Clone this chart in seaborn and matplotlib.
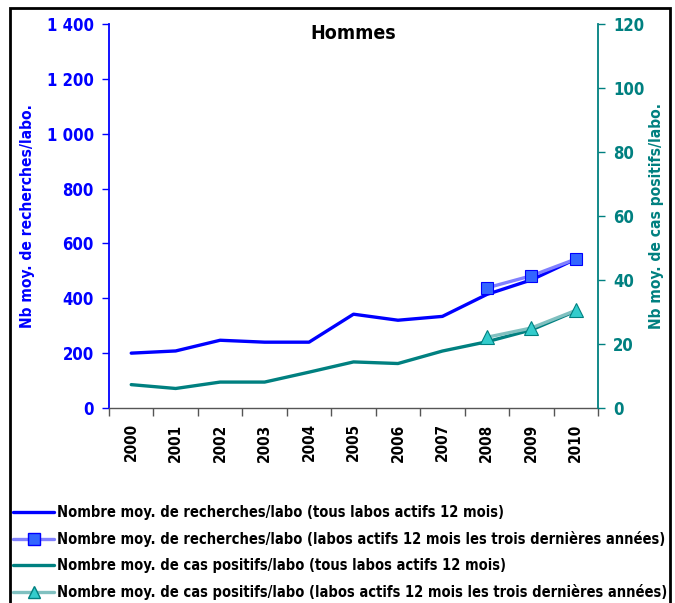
import matplotlib
matplotlib.use("Agg")
import matplotlib.pyplot as plt
import matplotlib.ticker as mticker
from matplotlib import font_manager
from matplotlib.lines import Line2D
from matplotlib.patches import Rectangle
import seaborn as sns
import pandas as pd

years = ["2000", "2001", "2002", "2003", "2004", "2005", "2006", "2007", "2008", "2009", "2010"]
recherches_tous = [200, 208, 247, 240, 240, 342, 320, 334, 414, 467, 543]
recherches_3ans_years = ["2008", "2009", "2010"]
recherches_3ans = [438, 482, 543]
positifs_tous = [7.3, 6.1, 8.1, 8.1, 11.2, 14.4, 13.9, 17.8, 20.7, 24.4, 30.3]
positifs_3ans_years = ["2008", "2009", "2010"]
positifs_3ans = [22.1, 25.0, 30.5]

title = "Hommes"
ylabel_left = "Nb moy. de recherches/labo."
ylabel_right = "Nb moy. de cas positifs/labo."
labels = [
    "Nombre moy. de recherches/labo (tous labos actifs 12 mois)",
    "Nombre moy. de recherches/labo (labos actifs 12 mois les trois dernières années)",
    "Nombre moy. de cas positifs/labo (tous labos actifs 12 mois)",
    "Nombre moy. de cas positifs/labo (labos actifs 12 mois les trois dernières années)",
]

sns.set_theme(style="white")

# choose a condensed bold font if available
fam = "DejaVu Sans"
stretch = "normal"
for cand in ["Liberation Sans Narrow"]:
    try:
        font_manager.findfont(font_manager.FontProperties(family=cand, weight="bold"), fallback_to_default=False)
        fam = cand
        break
    except Exception:
        pass
if fam == "DejaVu Sans":
    stretch = "condensed"
plt.rcParams["font.family"] = [fam, "DejaVu Sans"]
plt.rcParams["font.stretch"] = stretch
plt.rcParams["font.weight"] = "bold"
plt.rcParams["text.color"] = "black"

BLUE = "#0000FF"
TEAL = "#008080"

fig = plt.figure(figsize=(6.75, 6.03), dpi=100)
ax = fig.add_axes([109 / 675, 1 - 408 / 603, (598 - 109) / 675, (408 - 24) / 603])
ax2 = ax.twinx()

df1 = pd.DataFrame({"year": years, "v": recherches_tous})
df2 = pd.DataFrame({"year": recherches_3ans_years, "v": recherches_3ans})
df3 = pd.DataFrame({"year": years, "v": positifs_tous})
df4 = pd.DataFrame({"year": positifs_3ans_years, "v": positifs_3ans})

order = {y: i for i, y in enumerate(years)}
for d in (df1, df2, df3, df4):
    d["x"] = d["year"].map(order)

sns.lineplot(data=df1, x="x", y="v", ax=ax, color=BLUE, lw=2.4, zorder=3)
sns.lineplot(data=df2, x="x", y="v", ax=ax, color="#8080FF", lw=2.4, marker="s",
             markersize=9, markerfacecolor="#3366FF", markeredgecolor="#0000FF", markeredgewidth=0.8, zorder=4)
sns.lineplot(data=df3, x="x", y="v", ax=ax2, color=TEAL, lw=2.4, zorder=3)
sns.lineplot(data=df4, x="x", y="v", ax=ax2, color="#80C0C0", lw=2.4, marker="^",
             markersize=10, markerfacecolor="#33CCCC", markeredgecolor="#008080", markeredgewidth=0.8, zorder=4)

ax.set_xlim(-0.5, len(years) - 0.5)
ax.set_ylim(0, 1400)
ax2.set_ylim(0, 120)
ax.yaxis.set_major_locator(mticker.MultipleLocator(200))
ax2.yaxis.set_major_locator(mticker.MultipleLocator(20))
ax.yaxis.set_major_formatter(mticker.FuncFormatter(lambda v, p: f"{int(v):,}".replace(",", " ")))

ax.set_xticks([i - 0.5 for i in range(len(years) + 1)])
ax.set_xticklabels([])
ax.set_xticks(range(len(years)), minor=True)
ax.set_xticklabels(years, minor=True, rotation=90, fontsize=11, fontweight="bold", color="black")
ax.tick_params(axis="x", which="major", direction="out", length=6, width=1, color="#555555", bottom=True)
ax.tick_params(axis="x", which="minor", length=0, pad=11)

ax.tick_params(axis="y", direction="out", length=5, width=1, color=BLUE, labelcolor=BLUE, labelsize=12, left=True, pad=6)
ax2.tick_params(axis="y", direction="out", length=5, width=1, color=TEAL, labelcolor=TEAL, labelsize=12, right=True, pad=6)
for t in ax.get_yticklabels():
    t.set_fontweight("bold")
for t in ax2.get_yticklabels():
    t.set_fontweight("bold")

ax.set_xlabel("")
ax.set_ylabel(ylabel_left, color=BLUE, fontsize=11.2, fontweight="bold", labelpad=8)
ax2.set_ylabel(ylabel_right, color=TEAL, fontsize=11.2, fontweight="bold", labelpad=3)

for a in (ax, ax2):
    a.spines["top"].set_visible(False)
    a.grid(False)
ax.spines["right"].set_visible(False)
ax2.spines["left"].set_visible(False)
ax2.spines["bottom"].set_visible(False)
ax.spines["left"].set_color(BLUE)
ax.spines["left"].set_linewidth(1.3)
ax2.spines["right"].set_color(TEAL)
ax2.spines["right"].set_linewidth(1.3)
ax.spines["bottom"].set_color("#555555")
ax.spines["bottom"].set_linewidth(1)

ax.text(0.5, 1.0, title, transform=ax.transAxes, ha="center", va="top", fontsize=14, fontweight="bold", color="black")

# figure frame
fig.patches.append(Rectangle((10 / 675, -0.1), 660 / 675, 1.1 - 8 / 603, transform=fig.transFigure,
                             fill=False, edgecolor="black", lw=2, zorder=10))

handles = [
    Line2D([], [], color=BLUE, lw=2.4),
    Line2D([], [], color="#8080FF", lw=2.4, marker="s", markersize=8, markerfacecolor="#3366FF", markeredgecolor="#0000FF"),
    Line2D([], [], color=TEAL, lw=2.4),
    Line2D([], [], color="#80C0C0", lw=2.4, marker="^", markersize=9, markerfacecolor="#33CCCC", markeredgecolor="#008080"),
]
leg = fig.legend(handles, labels, loc="upper left", bbox_to_anchor=(12 / 675, 1 - 504 / 603), frameon=False,
                 fontsize=10.5, handlelength=2.75, handletextpad=0.25, labelspacing=0.74, borderaxespad=0, borderpad=0.1)
for t in leg.get_texts():
    t.set_fontweight("bold")
    t.set_color("black")

fig.savefig("out.png", dpi=100)
